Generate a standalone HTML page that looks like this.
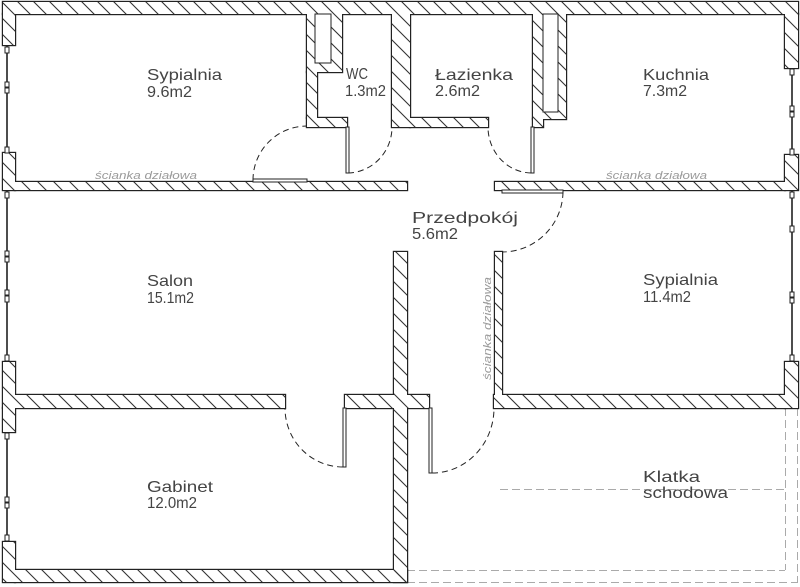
<!DOCTYPE html>
<html>
<head>
<meta charset="utf-8">
<style>
  html, body { margin: 0; padding: 0; background: #fff; }
  body { width: 800px; height: 587px; overflow: hidden; }
  svg { display: block; }
  .lbl { font-family: "Liberation Sans", sans-serif; font-size: 16px; fill: #444; }
  .gray { font-family: "Liberation Sans", sans-serif; font-size: 11px; font-style: italic; fill: #9a9a9a; }
</style>
</head>
<body>
<svg width="800" height="587" viewBox="0 0 800 587" xmlns="http://www.w3.org/2000/svg">
  <defs>
    <pattern id="h" patternUnits="userSpaceOnUse" width="16" height="16">
      <path d="M-2,-2L18,18M-2,14L2,18M14,-2L18,2" stroke="#333" stroke-width="1.1" fill="none"/>
    </pattern>
    <g id="w">
      <rect x="3" y="2" width="795" height="12"/>
      <rect x="3" y="14" width="12" height="31"/>
      <rect x="3" y="153" width="12" height="37"/>
      <rect x="15" y="182" width="392" height="8"/>
      <rect x="3" y="362" width="12" height="46"/>
      <rect x="15" y="395" width="270" height="13"/>
      <rect x="3" y="408" width="12" height="24"/>
      <rect x="3" y="542" width="12" height="40"/>
      <rect x="15" y="570" width="392" height="12"/>
      <rect x="785" y="14" width="13" height="54"/>
      <rect x="785" y="155" width="13" height="35"/>
      <rect x="495" y="182" width="290" height="8"/>
      <rect x="785" y="362" width="13" height="46"/>
      <rect x="494" y="395" width="291" height="13"/>
      <rect x="307" y="14" width="35" height="58"/>
      <rect x="307" y="72" width="10" height="46"/>
      <rect x="307" y="118" width="40" height="9"/>
      <rect x="392" y="14" width="18" height="113"/>
      <rect x="410" y="118" width="78" height="9"/>
      <rect x="533" y="14" width="33" height="105"/>
      <rect x="533" y="119" width="10" height="8"/>
      <rect x="394" y="252" width="13" height="330"/>
      <rect x="345" y="395" width="49" height="13"/>
      <rect x="407" y="395" width="22" height="13"/>
      <rect x="495" y="252" width="7" height="143"/>
    </g>
  </defs>

  <rect x="0" y="0" width="800" height="587" fill="#fff"/>

  <!-- stairwell dashed lines -->
  <g stroke="#aaa" stroke-width="1" stroke-dasharray="8 4" fill="none">
    <line x1="785.5" y1="408" x2="785.5" y2="570"/>
    <line x1="797.5" y1="408" x2="797.5" y2="582"/>
    <line x1="407" y1="570.5" x2="785" y2="570.5"/>
    <line x1="407" y1="582.5" x2="798" y2="582.5"/>
    <line x1="500" y1="489.5" x2="785" y2="489.5"/>
  </g>

  <!-- walls: outline, white fill, hatch -->
  <use href="#w" fill="none" stroke="#222" stroke-width="2.4"/>
  <use href="#w" fill="#fff"/>
  <use href="#w" fill="url(#h)"/>

  <!-- ducts -->
  <rect x="315" y="14" width="16" height="49" fill="#fff" stroke="#222" stroke-width="1"/>
  <rect x="543" y="14" width="15" height="98" fill="#fff" stroke="#222" stroke-width="1"/>

  <!-- windows -->
  <g stroke="#222" stroke-width="1.6">
    <line x1="7" y1="45" x2="7" y2="153"/>
    <line x1="7" y1="190" x2="7" y2="362"/>
    <line x1="7" y1="432" x2="7" y2="542"/>
    <line x1="792" y1="68" x2="792" y2="155"/>
    <line x1="792" y1="190" x2="792" y2="362"/>
  </g>
  <g fill="#fff" stroke="#222" stroke-width="1">
    <rect x="5" y="47" width="4" height="6"/>
    <rect x="5" y="82" width="4" height="5"/>
    <rect x="5" y="88" width="4" height="5"/>
    <rect x="5" y="147" width="4" height="6"/>
    <rect x="5" y="192" width="4" height="6"/>
    <rect x="5" y="251" width="4" height="5"/>
    <rect x="5" y="257" width="4" height="5"/>
    <rect x="5" y="290" width="4" height="5"/>
    <rect x="5" y="296" width="4" height="6"/>
    <rect x="5" y="355" width="4" height="6"/>
    <rect x="5" y="433" width="4" height="6"/>
    <rect x="5" y="497" width="4" height="5"/>
    <rect x="5" y="503" width="4" height="5"/>
    <rect x="5" y="535" width="4" height="6"/>
    <rect x="790" y="69" width="4" height="6"/>
    <rect x="790" y="106" width="4" height="5"/>
    <rect x="790" y="112" width="4" height="5"/>
    <rect x="790" y="149" width="4" height="6"/>
    <rect x="790" y="192" width="4" height="6"/>
    <rect x="790" y="226" width="4" height="6"/>
    <rect x="790" y="292" width="4" height="5"/>
    <rect x="790" y="298" width="4" height="5"/>
    <rect x="790" y="355" width="4" height="6"/>
  </g>

  <!-- door panels -->
  <g fill="#fff" stroke="#222" stroke-width="1">
    <rect x="253" y="179" width="54" height="3"/>
    <rect x="346" y="127" width="3" height="46"/>
    <rect x="531" y="127" width="3" height="46"/>
    <rect x="502" y="190" width="61" height="3"/>
    <rect x="343" y="408" width="3" height="59"/>
    <rect x="429" y="408" width="3" height="65"/>
  </g>

  <!-- door swings -->
  <g fill="none" stroke="#222" stroke-width="1" stroke-dasharray="6 4">
    <path d="M253,180 A54,54 0 0 1 307,126"/>
    <path d="M348,173 A45,46 0 0 0 392,127"/>
    <path d="M531,173 A44,46 0 0 1 488,127"/>
    <path d="M563,192 A61,61 0 0 1 502,252"/>
    <path d="M343,467 A58,59 0 0 1 285,408"/>
    <path d="M432,473 A62,65 0 0 0 494,408"/>
  </g>

  <!-- labels -->
  <text class="lbl" x="147" y="80" textLength="75" lengthAdjust="spacingAndGlyphs">Sypialnia</text>
  <text class="lbl" x="147" y="97" textLength="45" lengthAdjust="spacingAndGlyphs">9.6m2</text>
  <text class="lbl" x="346" y="79" textLength="22" lengthAdjust="spacingAndGlyphs">WC</text>
  <text class="lbl" x="345" y="96" textLength="41" lengthAdjust="spacingAndGlyphs">1.3m2</text>
  <text class="lbl" x="435" y="80" textLength="78" lengthAdjust="spacingAndGlyphs">Łazienka</text>
  <text class="lbl" x="435" y="96" textLength="45" lengthAdjust="spacingAndGlyphs">2.6m2</text>
  <text class="lbl" x="643" y="80" textLength="66" lengthAdjust="spacingAndGlyphs">Kuchnia</text>
  <text class="lbl" x="643" y="96" textLength="44" lengthAdjust="spacingAndGlyphs">7.3m2</text>
  <text class="lbl" x="412" y="223" textLength="106" lengthAdjust="spacingAndGlyphs">Przedpokój</text>
  <text class="lbl" x="412" y="239" textLength="46" lengthAdjust="spacingAndGlyphs">5.6m2</text>
  <text class="lbl" x="147" y="286" textLength="46" lengthAdjust="spacingAndGlyphs">Salon</text>
  <text class="lbl" x="147" y="303" textLength="47" lengthAdjust="spacingAndGlyphs">15.1m2</text>
  <text class="lbl" x="643" y="285" textLength="75" lengthAdjust="spacingAndGlyphs">Sypialnia</text>
  <text class="lbl" x="643" y="302" textLength="48" lengthAdjust="spacingAndGlyphs">11.4m2</text>
  <text class="lbl" x="147" y="492" textLength="66" lengthAdjust="spacingAndGlyphs">Gabinet</text>
  <text class="lbl" x="147" y="508" textLength="50" lengthAdjust="spacingAndGlyphs">12.0m2</text>
  <text class="lbl" x="643" y="482" textLength="57" lengthAdjust="spacingAndGlyphs">Klatka</text>
  <text class="lbl" x="643" y="498" textLength="85" lengthAdjust="spacingAndGlyphs">schodowa</text>

  <!-- partition wall notes -->
  <text class="gray" x="95" y="179" textLength="102" lengthAdjust="spacingAndGlyphs">ścianka działowa</text>
  <text class="gray" x="606" y="179" textLength="101" lengthAdjust="spacingAndGlyphs">ścianka działowa</text>
  <text class="gray" transform="translate(491,380) rotate(-90)" x="0" y="0" textLength="103" lengthAdjust="spacingAndGlyphs">ścianka działowa</text>
</svg>
</body>
</html>
